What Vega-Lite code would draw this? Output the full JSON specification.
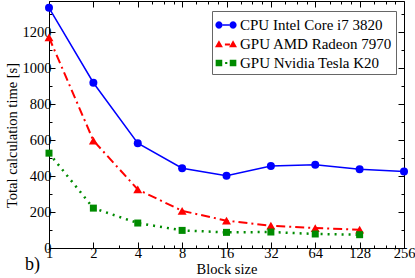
{
  "$schema": "https://vega.github.io/schema/vega-lite/v6.json",
  "width": 355,
  "height": 247,
  "autosize": {"type": "none"},
  "padding": {"left": 49, "top": 1, "right": 11, "bottom": 30},
  "background": "white",
  "title": {"text": "b)", "orient": "bottom", "anchor": "start", "frame": "group", "dx": -24, "offset": -20, "font": "'Liberation Serif', 'Times New Roman', serif", "fontSize": 18, "fontWeight": "normal", "color": "black"},
  "config": {
    "view": {"stroke": "black", "strokeWidth": 1},
    "axis": {"grid": false, "domain": false, "labelFont": "'Liberation Serif', 'Times New Roman', serif", "titleFont": "'Liberation Serif', 'Times New Roman', serif", "labelFontSize": 14.5, "titleFontSize": 14.5, "labelColor": "black", "titleColor": "black", "tickColor": "black", "titleFontWeight": "normal", "labelFlush": false, "labelOverlap": false, "tickWidth": 1},
    "legend": {"labelFont": "'Liberation Serif', 'Times New Roman', serif", "labelFontSize": 15, "labelColor": "black", "symbolSize": 484, "symbolStrokeWidth": 0, "strokeColor": "#666666", "fillColor": "white", "padding": 3, "rowPadding": -2, "labelOffset": 3, "symbolOffset": 0}
  },
  "data": {"values": [
    {"series": "CPU Intel Core i7 3820", "block": 1, "time": 1337},
    {"series": "CPU Intel Core i7 3820", "block": 2, "time": 920},
    {"series": "CPU Intel Core i7 3820", "block": 4, "time": 583},
    {"series": "CPU Intel Core i7 3820", "block": 8, "time": 444},
    {"series": "CPU Intel Core i7 3820", "block": 16, "time": 402},
    {"series": "CPU Intel Core i7 3820", "block": 32, "time": 457},
    {"series": "CPU Intel Core i7 3820", "block": 64, "time": 464},
    {"series": "CPU Intel Core i7 3820", "block": 128, "time": 439},
    {"series": "CPU Intel Core i7 3820", "block": 256, "time": 426},
    {"series": "GPU AMD Radeon 7970", "block": 1, "time": 1172},
    {"series": "GPU AMD Radeon 7970", "block": 2, "time": 598},
    {"series": "GPU AMD Radeon 7970", "block": 4, "time": 326},
    {"series": "GPU AMD Radeon 7970", "block": 8, "time": 207},
    {"series": "GPU AMD Radeon 7970", "block": 16, "time": 152},
    {"series": "GPU AMD Radeon 7970", "block": 32, "time": 124},
    {"series": "GPU AMD Radeon 7970", "block": 64, "time": 111},
    {"series": "GPU AMD Radeon 7970", "block": 128, "time": 102},
    {"series": "GPU Nvidia Tesla K20", "block": 1, "time": 528},
    {"series": "GPU Nvidia Tesla K20", "block": 2, "time": 222},
    {"series": "GPU Nvidia Tesla K20", "block": 4, "time": 139},
    {"series": "GPU Nvidia Tesla K20", "block": 8, "time": 98},
    {"series": "GPU Nvidia Tesla K20", "block": 16, "time": 87},
    {"series": "GPU Nvidia Tesla K20", "block": 32, "time": 89},
    {"series": "GPU Nvidia Tesla K20", "block": 64, "time": 78},
    {"series": "GPU Nvidia Tesla K20", "block": 128, "time": 74}
  ]},
  "layer": [
    {
      "transform": [{"filter": {"field": "series", "equal": "CPU Intel Core i7 3820"}}],
      "mark": {"type": "line", "color": "#0000ff", "strokeWidth": 1.5},
      "encoding": {
        "x": {"field": "block", "type": "quantitative", "scale": {"type": "log", "base": 2, "domain": [1, 256], "nice": false},
              "axis": {"orient": "bottom", "values": [1, 2, 4, 8, 16, 32, 64, 128, 256], "format": "d", "tickSize": -6, "labelPadding": 4, "title": "Block size", "titlePadding": 3}},
        "y": {"field": "time", "type": "quantitative", "scale": {"domain": [0, 1375], "nice": false},
              "axis": {"orient": "left", "values": [0, 200, 400, 600, 800, 1000, 1200], "format": "d", "tickSize": -6, "labelPadding": 4, "title": "Total calculation time [s]", "titleY": 134, "titlePadding": 3}}
      }
    },
    {
      "transform": [{"filter": {"field": "series", "equal": "GPU AMD Radeon 7970"}}],
      "mark": {"type": "line", "color": "#ff0000", "strokeWidth": 2, "strokeDash": [9, 4, 2, 4]},
      "encoding": {
        "x": {"field": "block", "type": "quantitative", "axis": {"orient": "top", "values": [1, 2, 4, 8, 16, 32, 64, 128, 256], "tickSize": -6, "labels": false, "title": null}},
        "y": {"field": "time", "type": "quantitative", "axis": {"orient": "right", "values": [0, 200, 400, 600, 800, 1000, 1200], "tickSize": -6, "labels": false, "title": null}}
      }
    },
    {
      "transform": [{"filter": {"field": "series", "equal": "GPU Nvidia Tesla K20"}}],
      "mark": {"type": "line", "color": "#008b00", "strokeWidth": 2.5, "strokeDash": [2, 5]},
      "encoding": {
        "x": {"field": "block", "type": "quantitative", "axis": {"orient": "top", "values": [3, 5, 6, 7, 10, 12, 14, 20, 24, 28, 40, 48, 56, 80, 96, 112, 160, 192, 224], "tickSize": -3, "labels": false, "title": null}},
        "y": {"field": "time", "type": "quantitative", "axis": {"orient": "right", "values": [100, 300, 500, 700, 900, 1100, 1300], "tickSize": -3, "labels": false, "title": null}}
      }
    },
    {
      "transform": [{"filter": {"field": "series", "equal": "CPU Intel Core i7 3820"}}],
      "mark": {"type": "point", "shape": "circle", "filled": true, "size": 64, "opacity": 1, "color": "#0000ff"},
      "encoding": {
        "x": {"field": "block", "type": "quantitative", "axis": {"orient": "bottom", "values": [3, 5, 6, 7, 10, 12, 14, 20, 24, 28, 40, 48, 56, 80, 96, 112, 160, 192, 224], "tickSize": -3, "labels": false, "title": null}},
        "y": {"field": "time", "type": "quantitative", "axis": {"orient": "left", "values": [100, 300, 500, 700, 900, 1100, 1300], "tickSize": -3, "labels": false, "title": null}}
      }
    },
    {
      "transform": [{"filter": {"field": "series", "equal": "GPU AMD Radeon 7970"}}],
      "mark": {"type": "point", "shape": "triangle-up", "filled": true, "size": 80, "opacity": 1, "color": "#ff0000"},
      "encoding": {
        "x": {"field": "block", "type": "quantitative", "axis": null},
        "y": {"field": "time", "type": "quantitative", "axis": null}
      }
    },
    {
      "transform": [{"filter": {"field": "series", "equal": "GPU Nvidia Tesla K20"}}],
      "mark": {"type": "point", "shape": "square", "filled": true, "size": 49, "opacity": 1, "color": "#008b00"},
      "encoding": {
        "x": {"field": "block", "type": "quantitative", "axis": null},
        "y": {"field": "time", "type": "quantitative", "axis": null}
      }
    },
    {
      "transform": [{"filter": "datum.block < 0"}],
      "mark": {"type": "point", "filled": true, "opacity": 1},
      "encoding": {
        "x": {"field": "block", "type": "quantitative", "axis": null},
        "y": {"field": "time", "type": "quantitative", "axis": null},
        "color": {"field": "series", "type": "nominal",
                  "scale": {"domain": ["CPU Intel Core i7 3820", "GPU AMD Radeon 7970", "GPU Nvidia Tesla K20"], "range": ["#0000ff", "#ff0000", "#008b00"]},
                  "legend": {"title": null, "orient": "none", "legendX": 163, "legendY": 10}},
        "shape": {"field": "series", "type": "nominal",
                  "scale": {"domain": ["CPU Intel Core i7 3820", "GPU AMD Radeon 7970", "GPU Nvidia Tesla K20"],
                            "range": [
                              "M-0.31,0 L-0.354,0.165 L-0.475,0.286 L-0.64,0.33 L-0.805,0.286 L-0.926,0.165 L-0.97,0 L-0.926,-0.165 L-0.805,-0.286 L-0.64,-0.33 L-0.475,-0.286 L-0.354,-0.165 Z M0.97,0 L0.926,0.165 L0.805,0.286 L0.64,0.33 L0.475,0.286 L0.354,0.165 L0.31,0 L0.354,-0.165 L0.475,-0.286 L0.64,-0.33 L0.805,-0.286 L0.926,-0.165 Z M-0.31,-0.068 L0.31,-0.068 L0.31,0.068 L-0.31,0.068 Z",
                              "M-1,0.3 L-0.28,0.3 L-0.64,-0.34 Z M0.28,0.3 L1,0.3 L0.64,-0.34 Z M-0.1,-0.04 L0.36,-0.04 L0.36,0.14 L-0.1,0.14 Z",
                              "M-0.94,-0.3 L-0.34,-0.3 L-0.34,0.3 L-0.94,0.3 Z M0.34,-0.3 L0.94,-0.3 L0.94,0.3 L0.34,0.3 Z M-0.08,-0.1 L0.12,-0.1 L0.12,0.1 L-0.08,0.1 Z"
                            ]},
                  "legend": {"title": null, "orient": "none", "legendX": 163, "legendY": 10}}
      }
    }
  ],
  "resolve": {"axis": {"x": "independent", "y": "independent"}}
}
